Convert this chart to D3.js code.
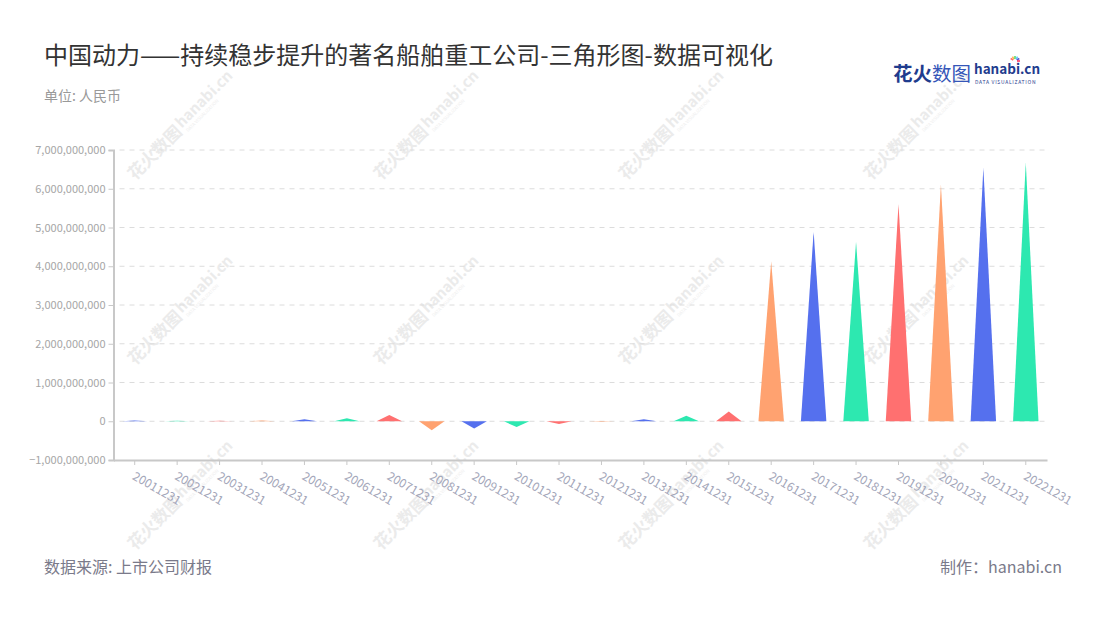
<!DOCTYPE html>
<html><head><meta charset="utf-8">
<script src="https://cdn.jsdelivr.net/npm/d3@7/dist/d3.min.js"></script>
<style>
html,body{margin:0;padding:0;background:#fff;}
svg text{font-family:"Noto Sans CJK SC","Noto Sans",sans-serif;}
</style></head>
<body><svg id="chart" width="1100" height="620"></svg>
<script>
const categories = ["20011231","20021231","20031231","20041231","20051231","20061231","20071231","20081231","20091231","20101231","20111231","20121231","20131231","20141231","20151231","20161231","20171231","20181231","20191231","20201231","20211231","20221231"];
const values = [20000000,15000000,15000000,20000000,50000000,75000000,160000000,-230000000,-190000000,-150000000,-70000000,-15000000,50000000,140000000,250000000,4120000000,4890000000,4630000000,5600000000,6110000000,6540000000,6680000000];
const yTicks = [-1000000000,0,1000000000,2000000000,3000000000,4000000000,5000000000,6000000000,7000000000];
const palette = ["#5570ee","#2de8b0","#ff7070","#ffa270"];
const titleText = "中国动力——持续稳步提升的著名船舶重工公司-三角形图-数据可视化";
const unitText = "单位: 人民币";
const sourceText = "数据来源: 上市公司财报";
const makerText = "制作：hanabi.cn";

const svg = d3.select("#chart");
const pLeft = 113.5, pRight = 1047, pTop = 150, pBottom = 460;

// watermarks
const wmX = [181, 427, 672, 917], wmY = [125, 310, 495];
const wm = svg.append("g").attr("class","watermarks");
wmY.forEach(cy => wmX.forEach(cx => {
  const g = wm.append("g").attr("transform", `translate(${cx},${cy}) rotate(-45)`);
  g.append("text").attr("x",-72).attr("y",7).attr("font-size",17).attr("font-weight","bold")
    .attr("fill","#ebebeb").text("花火数图");
  g.append("text").attr("x",-2).attr("y",3).attr("font-size",15).attr("font-weight","bold")
    .attr("fill","#ebebeb").text("hanabi.cn");
  g.append("text").attr("x",0).attr("y",10).attr("font-size",4.5)
    .attr("fill","#eeeeee").text("DATA VISUALIZATION");
}));

// title
svg.append("text").attr("x",44).attr("y",64).attr("font-size",24).attr("fill","#333").text(titleText);
svg.append("text").attr("x",44).attr("y",101).attr("font-size",14).attr("fill","#999").text(unitText);

// logo
const logo = svg.append("g");
logo.append("text").attr("x",893).attr("y",81).attr("font-size",19.5).attr("font-weight","bold").attr("fill","#1f3c8e").text("花火");
logo.append("text").attr("x",932).attr("y",81).attr("font-size",19.5).attr("fill","#3556b8").text("数图");
logo.append("text").attr("x",974).attr("y",74).attr("font-size",13.5).attr("font-weight","bold").attr("fill","#1f3c8e").text("hanabi.cn");
logo.append("text").attr("x",975).attr("y",83.5).attr("font-size",5).attr("fill","#1f3c8e").attr("letter-spacing",0.7).text("DATA VISUALIZATION");
const spark = [["#ff6b6b",-60],["#ffb347",-30],["#4cd964",0],["#5ac8fa",30],["#5856d6",60],["#ff2d55",90]];
spark.forEach(([c,a]) => {
  const r = a*Math.PI/180;
  logo.append("line").attr("x1",1015+Math.sin(r)*2).attr("y1",61-Math.cos(r)*2)
    .attr("x2",1015+Math.sin(r)*5).attr("y2",61-Math.cos(r)*5).attr("stroke",c).attr("stroke-width",1.5);
});

// scales
const x = d3.scaleBand().domain(categories).range([pLeft, pRight]).paddingInner(0).paddingOuter(0);
const y = d3.scaleLinear().domain([-1000000000, 7000000000]).range([pBottom, pTop]);

// grid
svg.append("g").selectAll("line").data(yTicks.filter(d => d !== -1000000000)).join("line")
  .attr("x1", pLeft+6).attr("x2", pRight).attr("y1", d => y(d)).attr("y2", d => y(d))
  .attr("stroke","#dcdcdc").attr("stroke-dasharray","5,5").attr("stroke-width",1);

// y axis
const yAxis = svg.append("g").attr("transform",`translate(${pLeft},0)`)
  .call(d3.axisLeft(y).tickValues(yTicks).tickFormat(d3.format(",")).tickSize(5).tickPadding(3));
yAxis.select(".domain").attr("stroke","#c8c8c8").attr("stroke-width",2);
yAxis.selectAll(".tick line").attr("stroke","#c8c8c8");
yAxis.selectAll(".tick text").attr("fill","#a6a6a6").attr("font-size",11)
  .attr("font-family",'"Noto Sans CJK SC","Noto Sans",sans-serif');

// x axis
const xAxis = svg.append("g").attr("transform",`translate(0,${pBottom})`)
  .call(d3.axisBottom(x).tickSize(5).tickSizeOuter(0).tickPadding(8));
xAxis.select(".domain").attr("stroke","#c8c8c8").attr("stroke-width",2);
xAxis.selectAll(".tick line").attr("stroke","#c8c8c8");
xAxis.selectAll(".tick text").attr("fill","#a3a6b9").attr("font-size",12)
  .attr("font-family",'"Noto Sans CJK SC","Noto Sans",sans-serif')
  .attr("text-anchor","start").attr("x",0).attr("y",0).attr("dy","0.35em")
  .attr("transform","translate(-1,15) rotate(30)");

// triangles
const bw = x.bandwidth()*0.6;
svg.append("g").selectAll("path").data(categories).join("path")
  .attr("d", (c,i) => {
    const cx = x(c) + x.bandwidth()/2;
    const y0 = y(0), y1 = y(values[i]);
    return `M${cx-bw/2},${y0} L${cx},${y1} L${cx+bw/2},${y0} Z`;
  })
  .attr("fill", (c,i) => palette[i % palette.length]);

// footer
svg.append("text").attr("x",44).attr("y",573).attr("font-size",16).attr("fill","#7a7a8a").text(sourceText);
svg.append("text").attr("x",1062).attr("y",573).attr("font-size",16).attr("text-anchor","end").attr("fill","#7a7a8a").text(makerText);
</script></body></html>
